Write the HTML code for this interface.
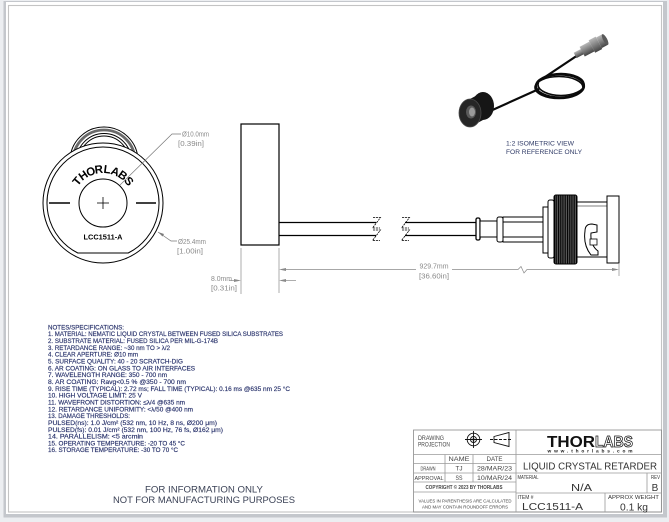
<!DOCTYPE html>
<html><head><meta charset="utf-8">
<style>
html,body{margin:0;padding:0;background:#eceef1;}
svg{display:block;}
text{font-family:"Liberation Sans",sans-serif;}
</style></head><body>
<svg width="669" height="522" viewBox="0 0 669 522" xmlns="http://www.w3.org/2000/svg">
<defs>
<pattern id="knurl" width="1.8" height="10" patternUnits="userSpaceOnUse">
<rect width="1.8" height="10" fill="#777"/>
<rect width="1.1" height="10" fill="#000"/>
</pattern>
<linearGradient id="cyl" x1="0" y1="0" x2="0" y2="1">
<stop offset="0" stop-color="#b8b8b8"/><stop offset="0.5" stop-color="#808080"/><stop offset="1" stop-color="#444"/>
</linearGradient>
</defs>
<!-- page -->
<rect width="669" height="522" fill="#eceef1"/>
<rect x="3.5" y="1" width="663.5" height="516.5" fill="#c4c7cc"/>
<rect x="6" y="2" width="657" height="512" fill="#fff"/>
<rect x="8.5" y="5.5" width="653" height="506.5" fill="none" stroke="#c4c4c4" stroke-width="1.1"/>

<!-- FRONT VIEW -->
<g stroke="#000" fill="none" stroke-width="1">
<circle cx="104" cy="161" r="34" fill="#fff"/>
<circle cx="104" cy="161" r="31" stroke="#6a6a6a" stroke-width="2.8"/>
<circle cx="104" cy="161" r="27.5"/>
<circle cx="104" cy="161" r="25"/>
<circle cx="103" cy="203" r="60" fill="#fff"/>
<path d="M77.8 253 A56 56 0 1 1 128.2 253 Z"/>
<circle cx="103" cy="203" r="24"/>
<line x1="97" y1="203" x2="109" y2="203" stroke-width="0.8"/>
<line x1="103" y1="197" x2="103" y2="209" stroke-width="0.8"/>
<line x1="49" y1="203" x2="70" y2="203" stroke-width="1.6"/>
<line x1="136" y1="203" x2="156" y2="203" stroke-width="1.6"/>
</g>
<g font-size="11.5" font-weight="bold" fill="#000" text-anchor="middle">
<text transform="translate(80.0 183.7) rotate(-50)">T</text>
<text transform="translate(85.5 178.6) rotate(-35.7)">H</text>
<text transform="translate(92.1 175.1) rotate(-21.4)">O</text>
<text transform="translate(99.3 173.2) rotate(-7.1)">R</text>
<text transform="translate(106.7 173.2) rotate(7.1)">L</text>
<text transform="translate(113.9 175.1) rotate(21.4)">A</text>
<text transform="translate(120.5 178.6) rotate(35.7)">B</text>
<text transform="translate(126.0 183.7) rotate(50)">S</text>
</g>
<text x="103" y="239.5" font-size="7" font-weight="bold" text-anchor="middle" textLength="39" lengthAdjust="spacingAndGlyphs">LCC1511-A</text>

<!-- front view dims -->
<g stroke="#7a7a7a" stroke-width="0.7" fill="none">
<polyline points="120,185 172,134 181,134"/>
<polyline points="158,232 171,241 177,241"/>
</g>
<polygon points="158,232 164,234 162.5,236.5" fill="#7a7a7a"/>
<g fill="#8a8a8a" font-size="7">
<text x="182" y="136.5" textLength="27" lengthAdjust="spacingAndGlyphs">Ø10.0mm</text>
<text x="178" y="146" textLength="26" lengthAdjust="spacingAndGlyphs">[0.39in]</text>
<text x="178" y="244" textLength="28" lengthAdjust="spacingAndGlyphs">Ø25.4mm</text>
<text x="177" y="253.5" textLength="26" lengthAdjust="spacingAndGlyphs">[1.00in]</text>
</g>

<!-- SIDE VIEW -->
<rect x="241" y="124" width="38" height="121" fill="#fff" stroke="#000" stroke-width="1.2"/>
<g stroke="#000" stroke-width="1.2">
<line x1="279" y1="222.5" x2="376" y2="222.5"/>
<line x1="279" y1="235.5" x2="376" y2="235.5"/>
<line x1="405" y1="222.5" x2="476" y2="222.5"/>
<line x1="405" y1="235.5" x2="476" y2="235.5"/>
</g>
<g stroke="#000" stroke-width="0.8" fill="none" stroke-dasharray="2.2 0.8">
<polyline points="373,217.5 380.5,217.5 372.5,228 380,228"/>
<polyline points="373,230 380.5,230 372.5,240.5 380,240.5"/>
<polyline points="402,217.5 409.5,217.5 401.5,228 409,228"/>
<polyline points="402,230 409.5,230 401.5,240.5 409,240.5"/>
</g>

<!-- BNC side -->
<g stroke="#000" stroke-width="1" fill="#fff">
<rect x="476" y="218" width="4" height="22" rx="1.5" stroke-width="1.3"/>
<rect x="480" y="221" width="17" height="16"/>
<rect x="497" y="217" width="6" height="25" rx="2"/>
<rect x="503" y="217" width="40" height="25"/>
<line x1="503" y1="222" x2="543" y2="222"/>
<line x1="503" y1="237" x2="543" y2="237"/>
<rect x="543" y="207" width="5" height="46"/>
<rect x="548" y="200" width="6" height="58" rx="2"/>
<rect x="554" y="195" width="23" height="69" rx="2" fill="url(#knurl)"/>
<rect x="577" y="202" width="30" height="55"/>
<line x1="577" y1="206" x2="607" y2="206" stroke-width="0.6"/>
<path d="M585 231 Q585 224 592 224 L597 225 L597 232 L591 233 Q590 245 598 251 L598 255 L591 255 Q583 245 585 231 Z"/>
<rect x="590" y="239" width="7" height="6" stroke-width="0.8"/>
<rect x="607" y="196" width="12" height="67"/>
</g>

<!-- dimensions side -->
<g stroke="#8a8a8a" stroke-width="0.7" fill="none">
<line x1="241" y1="248" x2="241" y2="294"/>
<line x1="279" y1="248" x2="279" y2="293"/>
<line x1="619" y1="264" x2="619" y2="276"/>
<line x1="286" y1="269.5" x2="416" y2="269.5"/>
<polyline points="452,269.5 518,269.5 521,266.5 524,273 527,269.5 612,269.5"/>
<line x1="229" y1="280.5" x2="235" y2="280.5"/>
<line x1="285" y1="280.5" x2="296" y2="280.5"/>
</g>
<g fill="#8a8a8a">
<polygon points="279,269.5 286,268 286,271"/>
<polygon points="619,269.5 612,268 612,271"/>
<polygon points="241,280.5 234,279 234,282"/>
<polygon points="279,280.5 286,279 286,282"/>
</g>
<g fill="#8a8a8a" font-size="7">
<text x="434" y="268.5" text-anchor="middle" textLength="29" lengthAdjust="spacingAndGlyphs">929.7mm</text>
<text x="434" y="278.5" text-anchor="middle" textLength="30" lengthAdjust="spacingAndGlyphs">[36.60in]</text>
<text x="232" y="281" text-anchor="end" textLength="21" lengthAdjust="spacingAndGlyphs">8.0mm</text>
<text x="237" y="290.5" text-anchor="end" textLength="26" lengthAdjust="spacingAndGlyphs">[0.31in]</text>
</g>

<!-- ISOMETRIC -->
<g stroke="#0a0a0a" fill="none" stroke-width="2.2">
<path d="M578 55 L545 77"/>
<ellipse cx="560" cy="86" rx="24" ry="11.5"/>
<ellipse cx="561" cy="84.5" rx="23" ry="11" stroke-width="1.6"/>
<ellipse cx="559" cy="87.5" rx="24" ry="11" stroke-width="1.6"/>
<path d="M539 89 L488 112"/>
</g>
<g transform="rotate(-28 591 47)">
<rect x="573" y="44" width="9" height="6" fill="url(#cyl)"/>
<rect x="581" y="41.5" width="11" height="11" fill="url(#cyl)"/>
<rect x="592" y="40" width="8" height="14" fill="url(#cyl)"/>
<rect x="600" y="41" width="7" height="12" fill="url(#cyl)"/>
<ellipse cx="607" cy="47" rx="2" ry="6" fill="#5a5a5a"/>
</g>
<g>
<ellipse cx="483" cy="106" rx="11" ry="14" fill="#161616"/>
<polygon points="470,99 483,92 483,120 470,127" fill="#161616"/>
<ellipse cx="470" cy="113" rx="11" ry="14" fill="#262626" stroke="#4a4a4a" stroke-width="0.8"/>
<ellipse cx="471" cy="112" rx="5" ry="6.5" fill="#5a5a5a"/>
<ellipse cx="472" cy="112" rx="3" ry="4.5" fill="#9a9a9a"/>
</g>
<g fill="#2f3a66" font-size="6.5">
<text x="506" y="145.5" textLength="68" lengthAdjust="spacingAndGlyphs">1:2 ISOMETRIC VIEW</text>
<text x="506" y="154" textLength="76" lengthAdjust="spacingAndGlyphs">FOR REFERENCE ONLY</text>
</g>

<!-- NOTES -->
<g fill="#26306a" stroke="#26306a" stroke-width="0.15" font-size="6.4">
<text x="48" y="329.3" textLength="76" lengthAdjust="spacingAndGlyphs">NOTES/SPECIFICATIONS:</text>
<text x="48" y="336.1" textLength="235" lengthAdjust="spacingAndGlyphs">1. MATERIAL: NEMATIC LIQUID CRYSTAL BETWEEN FUSED SILICA SUBSTRATES</text>
<text x="48" y="343.0" textLength="170" lengthAdjust="spacingAndGlyphs">2. SUBSTRATE MATERIAL: FUSED SILICA PER MIL-G-174B</text>
<text x="48" y="349.8" textLength="122" lengthAdjust="spacingAndGlyphs">3. RETARDANCE RANGE: ~30 nm TO &gt; λ/2</text>
<text x="48" y="356.6" textLength="90" lengthAdjust="spacingAndGlyphs">4. CLEAR APERTURE: Ø10 mm</text>
<text x="48" y="363.5" textLength="135" lengthAdjust="spacingAndGlyphs">5. SURFACE QUALITY: 40 - 20 SCRATCH-DIG</text>
<text x="48" y="370.3" textLength="147" lengthAdjust="spacingAndGlyphs">6. AR COATING: ON GLASS TO AIR INTERFACES</text>
<text x="48" y="377.1" textLength="119" lengthAdjust="spacingAndGlyphs">7. WAVELENGTH RANGE: 350 - 700 nm</text>
<text x="48" y="383.9" textLength="138" lengthAdjust="spacingAndGlyphs">8. AR COATING: Ravg&lt;0.5 % @350 - 700 nm</text>
<text x="48" y="390.8" textLength="242" lengthAdjust="spacingAndGlyphs">9. RISE TIME (TYPICAL): 2.72 ms; FALL TIME (TYPICAL): 0.16 ms @635 nm 25 °C</text>
<text x="48" y="397.6" textLength="94" lengthAdjust="spacingAndGlyphs">10. HIGH VOLTAGE LIMIT: 25 V</text>
<text x="48" y="404.4" textLength="137" lengthAdjust="spacingAndGlyphs">11. WAVEFRONT DISTORTION: ≤λ/4 @635 nm</text>
<text x="48" y="411.3" textLength="145" lengthAdjust="spacingAndGlyphs">12. RETARDANCE UNIFORMITY: &lt;λ/50 @400 nm</text>
<text x="48" y="418.1" textLength="82" lengthAdjust="spacingAndGlyphs">13. DAMAGE THRESHOLDS:</text>
<text x="48" y="424.9" textLength="169" lengthAdjust="spacingAndGlyphs">PULSED(ns): 1.0 J/cm² (532 nm, 10 Hz, 8 ns, Ø200 μm)</text>
<text x="48" y="431.8" textLength="175" lengthAdjust="spacingAndGlyphs">PULSED(fs): 0.01 J/cm² (532 nm, 100 Hz, 76 fs, Ø162 μm)</text>
<text x="48" y="438.6" textLength="95" lengthAdjust="spacingAndGlyphs">14. PARALLELISM: &lt;5 arcmin</text>
<text x="48" y="445.4" textLength="137" lengthAdjust="spacingAndGlyphs">15. OPERATING TEMPERATURE: -20 TO 45 °C</text>
<text x="48" y="452.2" textLength="130" lengthAdjust="spacingAndGlyphs">16. STORAGE TEMPERATURE: -30 TO 70 °C</text>
</g>

<!-- FOR INFORMATION ONLY -->
<g fill="#3b4256" font-size="9.5" text-anchor="middle">
<text x="204" y="492.5" textLength="118" lengthAdjust="spacingAndGlyphs">FOR INFORMATION ONLY</text>
<text x="204" y="503" textLength="182" lengthAdjust="spacingAndGlyphs">NOT FOR MANUFACTURING PURPOSES</text>
</g>

<!-- TITLE BLOCK -->
<g stroke="#9a9a9a" stroke-width="0.8" fill="none">
<rect x="413.5" y="430" width="248" height="82" stroke="#8a8a8a"/>
<line x1="516" y1="430" x2="516" y2="512"/>
<line x1="413.5" y1="454.5" x2="661.5" y2="454.5"/>
<line x1="413.5" y1="463.5" x2="516" y2="463.5"/>
<line x1="413.5" y1="473" x2="661.5" y2="473"/>
<line x1="413.5" y1="482" x2="516" y2="482"/>
<line x1="413.5" y1="492" x2="516" y2="492"/>
<line x1="516" y1="493" x2="661.5" y2="493"/>
<line x1="445" y1="454.5" x2="445" y2="482"/>
<line x1="473" y1="454.5" x2="473" y2="482"/>
<line x1="647" y1="473" x2="647" y2="493"/>
<line x1="605" y1="493" x2="605" y2="512"/>
</g>
<!-- projection symbol -->
<g stroke="#111" stroke-width="0.9" fill="none">
<circle cx="473.5" cy="439.5" r="6.3"/>
<circle cx="473.5" cy="439.5" r="3"/>
<line x1="465" y1="439.5" x2="482" y2="439.5"/>
<line x1="473.5" y1="431" x2="473.5" y2="448"/>
<polygon points="494,436.5 509,432.5 509,446.5 494,442.5"/>
<line x1="490" y1="439.5" x2="512" y2="439.5" stroke-dasharray="3 1.5"/>
</g>
<circle cx="473.5" cy="439.5" r="1.2" fill="#111"/>
<g fill="#444" font-size="6.3">
<text x="418" y="440" textLength="26" lengthAdjust="spacingAndGlyphs">DRAWING</text>
<text x="418" y="446.5" textLength="32" lengthAdjust="spacingAndGlyphs">PROJECTION</text>
<text x="459" y="461" text-anchor="middle" textLength="21" lengthAdjust="spacingAndGlyphs">NAME</text>
<text x="494.5" y="461" text-anchor="middle" textLength="16" lengthAdjust="spacingAndGlyphs">DATE</text>
<text x="428" y="470.5" text-anchor="middle" textLength="15" lengthAdjust="spacingAndGlyphs" font-size="5.5">DRAWN</text>
<text x="459" y="470.5" text-anchor="middle" textLength="7" lengthAdjust="spacingAndGlyphs">TJ</text>
<text x="494.5" y="470.5" text-anchor="middle" textLength="35" lengthAdjust="spacingAndGlyphs">28/MAR/23</text>
<text x="429" y="480" text-anchor="middle" textLength="29" lengthAdjust="spacingAndGlyphs" font-size="5.5">APPROVAL</text>
<text x="459" y="480" text-anchor="middle" textLength="7" lengthAdjust="spacingAndGlyphs">SS</text>
<text x="494.5" y="480" text-anchor="middle" textLength="35" lengthAdjust="spacingAndGlyphs">10/MAR/24</text>
<text x="464" y="489" text-anchor="middle" textLength="77" lengthAdjust="spacingAndGlyphs" font-size="5" font-weight="bold">COPYRIGHT © 2023 BY THORLABS</text>
<text x="465" y="502.5" text-anchor="middle" textLength="93" lengthAdjust="spacingAndGlyphs" font-size="4.5">VALUES IN PARENTHESIS ARE CALCULATED</text>
<text x="465" y="508.5" text-anchor="middle" textLength="86" lengthAdjust="spacingAndGlyphs" font-size="4.5">AND MAY CONTAIN ROUNDOFF ERRORS</text>
</g>
<!-- logo -->
<text x="547" y="447" font-size="16" font-weight="bold" fill="#111" textLength="48" lengthAdjust="spacingAndGlyphs">THOR</text>
<text x="595" y="447" font-size="16" font-weight="bold" fill="#fff" stroke="#111" stroke-width="0.8" textLength="38" lengthAdjust="spacingAndGlyphs">LABS</text>
<text x="547.5" y="452.5" font-size="4.8" font-weight="bold" fill="#222" textLength="85" lengthAdjust="spacing">www.thorlabs.com</text>
<g fill="#333">
<text x="590" y="469.5" font-size="10" text-anchor="middle" textLength="134" lengthAdjust="spacingAndGlyphs">LIQUID CRYSTAL RETARDER</text>
<text x="517.5" y="479" font-size="5.8" textLength="21" lengthAdjust="spacingAndGlyphs">MATERIAL</text>
<text x="581.5" y="491" font-size="10" text-anchor="middle" textLength="21" lengthAdjust="spacingAndGlyphs">N/A</text>
<text x="651" y="479" font-size="5.8" textLength="9" lengthAdjust="spacingAndGlyphs">REV</text>
<text x="655" y="491" font-size="10" text-anchor="middle">B</text>
<text x="517.5" y="499" font-size="5.8" textLength="16" lengthAdjust="spacingAndGlyphs">ITEM #</text>
<text x="552.5" y="510" font-size="10" text-anchor="middle" textLength="61" lengthAdjust="spacingAndGlyphs">LCC1511-A</text>
<text x="608" y="499" font-size="5.8" textLength="51" lengthAdjust="spacingAndGlyphs">APPROX WEIGHT</text>
<text x="634" y="510.5" font-size="10" text-anchor="middle" textLength="28" lengthAdjust="spacingAndGlyphs">0.1 kg</text>
</g>
</svg>
</body></html>
